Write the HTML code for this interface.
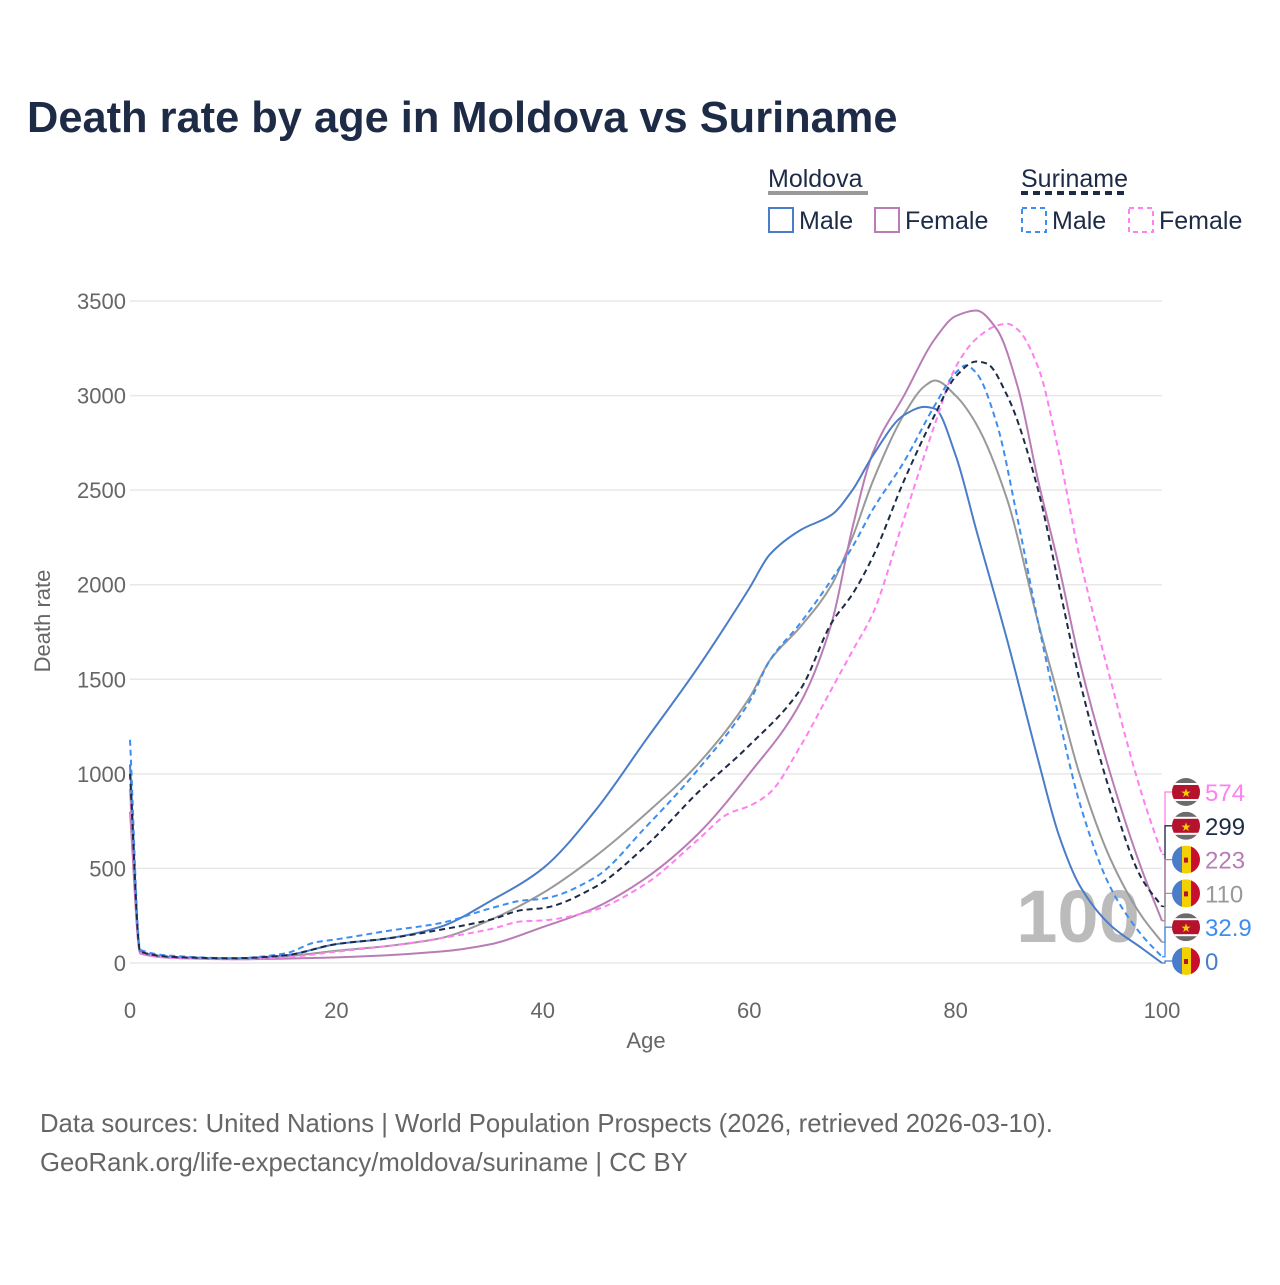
<!DOCTYPE html>
<html><head><meta charset="utf-8"><style>
body{margin:0;background:#fff;width:1280px;height:1280px;overflow:hidden;font-family:"Liberation Sans",sans-serif}
</style></head><body>
<svg id="chart" width="1280" height="1280" xmlns="http://www.w3.org/2000/svg" font-family="Liberation Sans, sans-serif">
<text x="27" y="132" font-size="43.4" font-weight="bold" fill="#1d2b47">Death rate by age in Moldova vs Suriname</text>
<g font-size="25" fill="#1d2b47">
 <text x="768" y="187">Moldova</text>
 <line x1="768" y1="193" x2="868" y2="193" stroke="#999" stroke-width="4"/>
 <text x="1021" y="187">Suriname</text>
 <line x1="1021" y1="193" x2="1129" y2="193" stroke="#1d2b47" stroke-width="4" stroke-dasharray="7,5"/>
 <rect x="769" y="208" width="24" height="24" fill="none" stroke="#4a7cc9" stroke-width="2"/>
 <text x="799" y="229">Male</text>
 <rect x="875" y="208" width="24" height="24" fill="none" stroke="#b97db5" stroke-width="2"/>
 <text x="905" y="229">Female</text>
 <rect x="1022" y="208" width="24" height="24" fill="none" stroke="#3d8ef0" stroke-width="2" stroke-dasharray="5,4"/>
 <text x="1052" y="229">Male</text>
 <rect x="1129" y="208" width="24" height="24" fill="none" stroke="#ff80ee" stroke-width="2" stroke-dasharray="5,4"/>
 <text x="1159" y="229">Female</text>
</g>
<g id="grid"></g>
<g id="axes" font-size="22" fill="#666"></g>
<text x="1078" y="942" font-size="74" font-weight="bold" fill="#bbb" text-anchor="middle">100</text>
<g id="series"></g>
<g id="labels"></g>
<text x="646" y="1048" font-size="22" fill="#666" text-anchor="middle">Age</text>
<text transform="translate(50,621) rotate(-90)" font-size="22" fill="#666" text-anchor="middle">Death rate</text>
<text x="40" y="1132" font-size="25.7" fill="#666">Data sources: United Nations | World Population Prospects (2026, retrieved 2026-03-10).</text>
<text x="40" y="1171" font-size="25.7" fill="#666">GeoRank.org/life-expectancy/moldova/suriname | CC BY</text>
</svg>
<script>
const yTicks=[0,500,1000,1500,2000,2500,3000,3500];
const xTicks=[0,20,40,60,80,100];
const mdMaleAges=[0,1,5,10,15,20,25,30,35,40,45,50,55,60,62,65,68,70,72,75,77,78,80,82,85,88,90,92,95,98,100];
const mdMale=[1050,60,30,25,40,100,130,190,330,500,800,1180,1560,1980,2160,2290,2370,2500,2685,2897,2940,2930,2685,2290,1707,1073,677,412,200,80,0];
const mdFemaleAges=[0,1,5,10,20,30,35,40,45,50,55,60,65,68,70,72,75,78,80,82,84,86,88,90,92,95,98,100];
const mdFemale=[800,50,25,20,30,60,100,190,290,450,680,1000,1380,1800,2300,2700,3000,3300,3420,3450,3350,3050,2550,2100,1600,1000,500,223];
const mdTotalAges=[0,1,5,10,15,20,25,30,35,40,45,50,55,60,62,65,68,70,72,75,77,78,80,82,85,88,90,92,95,98,100];
const mdTotal=[920,55,27,22,35,65,90,130,230,370,560,790,1050,1400,1600,1780,2000,2250,2550,2900,3050,3080,3000,2850,2450,1800,1400,1000,550,250,110];
const srMaleAges=[0,1,5,10,15,18,20,25,30,35,38,40,45,50,55,60,62,65,70,72,75,78,80,81,82,84,86,88,90,92,95,98,100];
const srMale=[1180,70,35,25,50,110,125,170,210,290,330,340,450,720,1020,1380,1600,1800,2200,2400,2650,2950,3120,3160,3120,2850,2350,1800,1300,850,400,150,33];
const srTotalAges=[0,1,5,10,15,20,25,30,35,38,40,45,50,55,60,65,68,70,72,75,78,80,82,83,85,88,90,92,95,98,100];
const srTotal=[1000,60,30,25,40,100,130,175,230,280,290,400,620,900,1150,1450,1800,1950,2150,2550,2900,3100,3180,3170,3000,2500,2000,1500,900,450,299];
const srFemaleAges=[0,1,5,10,15,20,25,30,35,38,40,45,50,55,58,60,62,65,68,70,72,75,78,80,82,84,85,86,88,90,92,95,98,100];
const srFemale=[900,55,25,20,30,60,90,130,180,220,225,280,420,650,790,830,900,1150,1450,1650,1850,2350,2850,3150,3300,3370,3380,3350,3150,2700,2150,1500,900,574];
const endLabels=["574","299","223","110","32.9","0"];

const NS="http://www.w3.org/2000/svg";
const X=a=>130+a*10.32, Y=v=>963-v*0.18914;
function mk(tag,attrs,parent){const e=document.createElementNS(NS,tag);for(const k in attrs)e.setAttribute(k,attrs[k]);parent.appendChild(e);return e;}
const grid=document.getElementById('grid'),axes=document.getElementById('axes');
yTicks.forEach(v=>{
 const l=mk('line',{x1:130,x2:1162,y1:Y(v),y2:Y(v),stroke:'#e8e8e8','stroke-width':1.5},grid);
 
 
 const t=mk('text',{x:126,y:Y(v)+8,'text-anchor':'end'},axes);t.textContent=v;
 
 
});
xTicks.forEach(v=>{
 const t=mk('text',{x:X(v),y:1018,'text-anchor':'middle'},axes);t.textContent=v;
 
 
});
function path(ages,vals){
 const x=ages.map(X),y=vals.map(Y),n=x.length;
 const d=[],m=[];
 for(let i=0;i<n-1;i++)d.push((y[i+1]-y[i])/(x[i+1]-x[i]));
 m[0]=d[0];m[n-1]=d[n-2];
 for(let i=1;i<n-1;i++){
  if(d[i-1]*d[i]<=0)m[i]=0;
  else{const w1=2*(x[i+1]-x[i])+(x[i]-x[i-1]),w2=(x[i+1]-x[i])+2*(x[i]-x[i-1]);m[i]=(w1+w2)/(w1/d[i-1]+w2/d[i]);}
 }
 let s=`M${x[0]},${y[0]}`;
 for(let i=0;i<n-1;i++){
  const h=(x[i+1]-x[i])/3;
  s+=` C${x[i]+h},${y[i]+m[i]*h} ${x[i+1]-h},${y[i+1]-m[i+1]*h} ${x[i+1]},${y[i+1]}`;
 }
 return s;
}
const S=document.getElementById('series');
const defs=[
 ['moldova-total',mdTotalAges,mdTotal,'#999',''],
 ['moldova-female',mdFemaleAges,mdFemale,'#b97db5',''],
 ['moldova-male',mdMaleAges,mdMale,'#4a7cc9',''],
 ['suriname-female',srFemaleAges,srFemale,'#ff80ee','6,4'],
 ['suriname-male',srMaleAges,srMale,'#3d8ef0','6,4'],
 ['suriname-total',srTotalAges,srTotal,'#1d2b47','6,4']];
defs.forEach(s=>{
 const e=mk('path',{d:path(s[1],s[2]),fill:'none',stroke:s[3],'stroke-width':2,'stroke-dasharray':s[4]},S);
 
 
});
const L=document.getElementById('labels');
const order=[[srFemale,'#ff80ee','sr'],[srTotal,'#1d2b47','sr'],[mdFemale,'#b97db5','md'],[mdTotal,'#999','md'],[srMale,'#3d8ef0','sr'],[mdMale,'#4a7cc9','md']];
order.forEach((o,i)=>{
 const ly=792+i*33.8, vy=Y(o[0][o[0].length-1]);
 const c=mk('polyline',{points:`1162,${vy} 1165,${vy} 1165,${ly} 1172,${ly}`,fill:'none',stroke:o[1],'stroke-width':1.3},L);
 
 
 const g=mk('g',{},L);
 
 
 const cx=1186,cy=ly,r=14;
 const cp='cp'+i;
 const cl=mk('clipPath',{id:cp},g);mk('circle',{cx,cy,r},cl);
 const gg=mk('g',{'clip-path':`url(#${cp})`},g);
 if(o[2]==='sr'){
  mk('rect',{x:cx-r,y:cy-r,width:2*r,height:2*r,fill:'#6b6b6b'},gg);
  mk('rect',{x:cx-r,y:cy-9,width:2*r,height:18,fill:'#fff'},gg);
  mk('rect',{x:cx-r,y:cy-7,width:2*r,height:14,fill:'#b5122e'},gg);
  const t=mk('text',{x:cx,y:cy+5,'font-size':12,'text-anchor':'middle',fill:'#f5d000'},gg);t.textContent='★';
 }else{
  mk('rect',{x:cx-r,y:cy-r,width:10,height:2*r,fill:'#4a7cc9'},gg);
  mk('rect',{x:cx-4,y:cy-r,width:9,height:2*r,fill:'#f5d000'},gg);
  mk('rect',{x:cx+5,y:cy-r,width:10,height:2*r,fill:'#c8102e'},gg);
  mk('rect',{x:cx-2,y:cy-2,width:4,height:5,fill:'#b5122e'},gg);
 }
 const t=mk('text',{x:1205,y:ly+9,'font-size':24,fill:o[1]},L);t.textContent=endLabels[i];
 
 
});
</script>
</body></html>
